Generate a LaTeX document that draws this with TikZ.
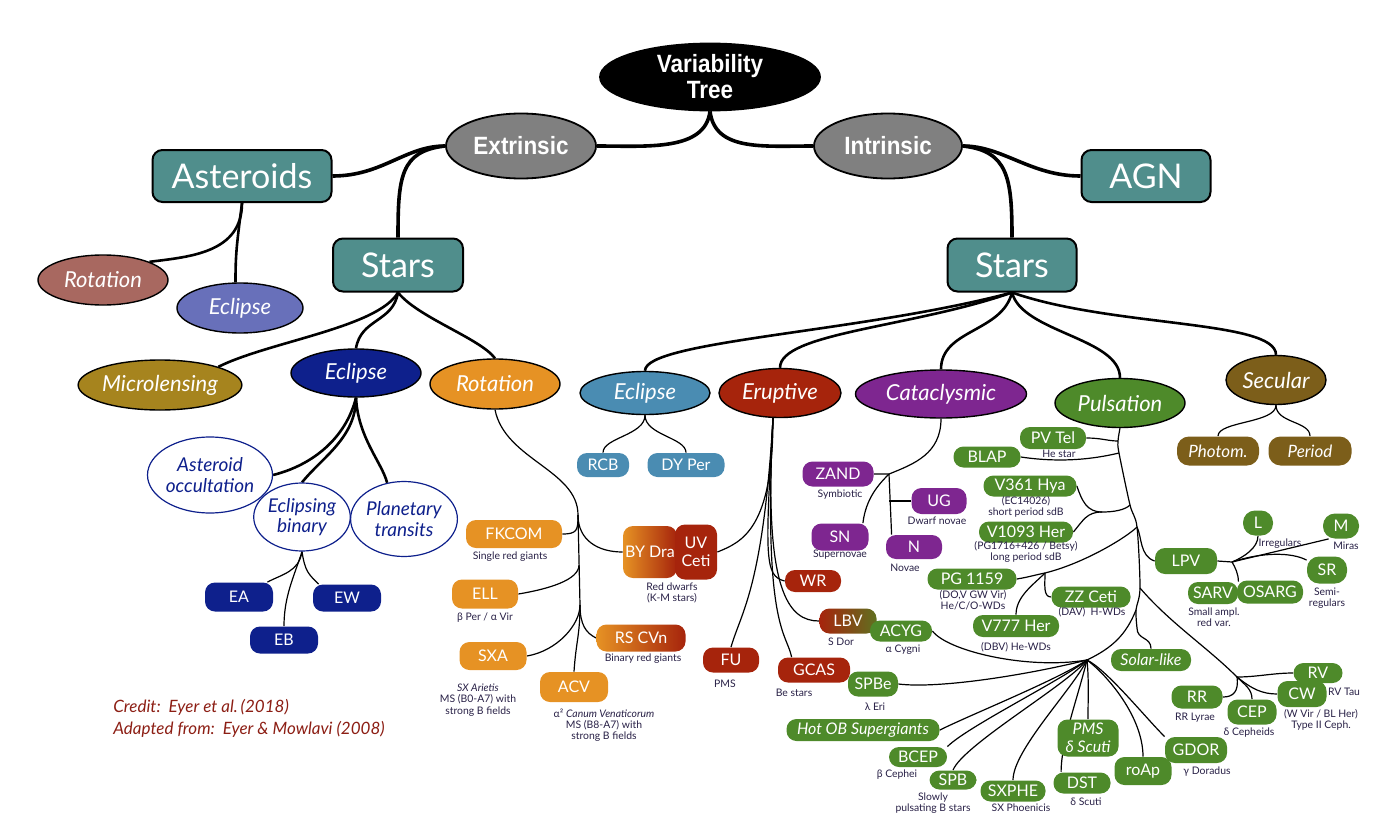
\documentclass[tikz,border=0pt]{standalone}
\usepackage{fontspec}
\setmainfont{Lato}
\newfontfamily\condfont[FakeStretch=0.9]{Liberation Sans}
\usepackage{tikz}
\usetikzlibrary{shapes.geometric,backgrounds}
\definecolor{tealbox}{RGB}{80,142,140}
\definecolor{greyell}{RGB}{128,128,128}
\definecolor{roseell}{RGB}{168,104,96}
\definecolor{perell}{RGB}{104,112,186}
\definecolor{olivell}{RGB}{166,132,30}
\definecolor{navyc}{RGB}{14,32,140}
\definecolor{orangec}{RGB}{230,146,36}
\definecolor{lblue}{RGB}{74,140,178}
\definecolor{redc}{RGB}{166,36,12}
\definecolor{purplec}{RGB}{126,38,144}
\definecolor{greenc}{RGB}{78,138,42}
\definecolor{brownc}{RGB}{124,94,26}
\definecolor{olivegr}{RGB}{96,112,32}
\definecolor{creditc}{RGB}{140,30,20}
\definecolor{notec}{RGB}{40,32,70}

\begin{document}
\begin{tikzpicture}[x=0.5pt,y=-0.5pt,
		top/.style={ellipse, draw=black, line width=0.9pt, text=white, font=\condfont\bfseries\fontsize{12.5}{13}\selectfont, inner sep=0pt, align=center},
		big/.style={draw=black, line width=1pt, fill=tealbox, rounded corners=5pt, text=white, font=\fontsize{17}{20}\selectfont, inner sep=0pt},
		fam/.style={ellipse, draw=black, line width=0.7pt, text=white, font=\itshape\fontsize{11}{12}\selectfont, inner sep=0pt},
		ring/.style={ellipse, draw=navyc, line width=0.6pt, fill=white, text=navyc, font=\itshape\fontsize{9.5}{10.3}\selectfont, align=center, inner sep=0pt},
		pill/.style={rounded corners=5pt, text=white, font=\fontsize{8}{9}\selectfont, inner sep=0pt, minimum height=11pt, align=center},
		note/.style={text=notec, font=\fontsize{5.2}{5.6}\selectfont, align=center, inner sep=0pt},
		link/.style={line width=1.8pt},
		sub/.style={line width=1.3pt},
		twig/.style={line width=0.6pt}]
			\useasboundingbox (0,0) rectangle (1398,830);

			\node[top, fill=black, minimum width=110pt, minimum height=33.5pt] (vt) at (710,77) {Variability\\Tree};
			\node[top, fill=greyell, minimum width=75pt, minimum height=32.5pt] (ext) at (521,146) {Extrinsic};
			\node[top, fill=greyell, minimum width=74pt, minimum height=32.5pt] (int) at (888,146) {Intrinsic};
			\node[big, minimum width=89.5pt, minimum height=26pt] (ast) at (242,176) {Asteroids};
			\node[big, minimum width=64.5pt, minimum height=26pt] (agn) at (1146,176) {AGN};
			\node[big, minimum width=65pt, minimum height=26.5pt] (starsL) at (398,265) {Stars};
			\node[big, minimum width=64.5pt, minimum height=26.5pt] (starsR) at (1012,265) {Stars};

			\node[fam, fill=roseell, minimum width=65pt, minimum height=25pt] (rot1) at (103,280) {Rotation};
			\node[fam, fill=perell, minimum width=63pt, minimum height=25pt] (ecl1) at (240,308) {Eclipse};
			\node[fam, fill=olivell, minimum width=76.5pt, minimum height=25pt] (micro) at (160,385) {Microlensing};
			\node[fam, fill=navyc, minimum width=65pt, minimum height=24pt] (ecl2) at (356,373) {Eclipse};
			\node[fam, fill=orangec, minimum width=65pt, minimum height=25pt] (rot2) at (495,384) {Rotation};
			\node[fam, fill=lblue, minimum width=65pt, minimum height=21.5pt] (ecl3) at (645,393) {Eclipse};
			\node[fam, fill=redc, minimum width=61pt, minimum height=24.5pt] (erup) at (780,393) {Eruptive};
			\node[fam, fill=purplec, minimum width=85.5pt, minimum height=24pt] (cata) at (941,394) {Cataclysmic};
			\node[fam, fill=greenc, minimum width=65pt, minimum height=24.5pt] (pul) at (1120,403) {Pulsation};
			\node[fam, fill=brownc, minimum width=50pt, minimum height=24.5pt] (sec) at (1276,380) {Secular};

			\node[ring, minimum width=51.5pt, minimum height=38pt] (occ) at (210,475) {Asteroid\\occultation};
			\node[ring, minimum width=44pt, minimum height=34pt] (bin) at (302,517) {Eclipsing\\binary};
			\node[ring, minimum width=46.5pt, minimum height=37.5pt] (pt) at (404,519) {Planetary\\transits};
			\node[pill, fill=navyc, minimum width=34pt, minimum height=14.5pt] (ea) at (239,597) {EA};
			\node[pill, fill=navyc, minimum width=34pt, minimum height=13.5pt] (eb) at (284,640) {EB};
			\node[pill, fill=navyc, minimum width=34pt, minimum height=13.5pt] (ew) at (347,598) {EW};

			\node[anchor=west, text=creditc, font=\itshape\fontsize{8.5}{11}\selectfont, align=left, inner sep=0pt] (credit) at (113,718) {Credit:\ \ Eyer et al.\,(2018)\\Adapted from:\ \ Eyer \& Mowlavi (2008)};

			\node[pill, fill=orangec, minimum width=48pt, minimum height=14pt] (fk) at (514,534) {FKCOM};
			\node[pill, fill=orangec, minimum width=33pt, minimum height=14.5pt] (ell) at (485,594) {ELL};
			\node[pill, fill=orangec, minimum width=33.5pt, minimum height=14pt] (sxa) at (493,656) {SXA};
			\node[pill, fill=orangec, minimum width=34pt, minimum height=15pt] (acv) at (574,687) {ACV};
			\node[pill, left color=orangec, right color=redc, minimum width=44.5pt, minimum height=13.5pt] (rscvn) at (641,638) {RS CVn};
			\node[pill, left color=orangec, right color=redc, minimum width=27pt, minimum height=26pt] (bydra) at (650,552) {BY Dra};
			\node[pill, fill=redc, minimum width=21pt, minimum height=27.5pt] (uvceti) at (696,552) {UV\\Ceti};
			\node[note] (n-fk) at (510,557) {Single red giants};
			\node[note] (n-ell) at (485,618) {β Per / α Vir};
			\node[note] (n-sxa) at (478,700) {\textit{SX Arietis}\\MS (B0-A7) with\\strong B fields};
			\node[note] (n-acv) at (604,725) {α² \textit{Canum Venaticorum}\\MS (B8-A7) with\\strong B fields};
			\node[note] (n-rs) at (643,659) {Binary red giants};
			\node[note] (n-by) at (672,593) {Red dwarfs\\(K-M stars)};

			\node[pill, fill=lblue, minimum width=26pt, minimum height=12pt] (rcb) at (603,465) {RCB};
			\node[pill, fill=lblue, minimum width=38.5pt, minimum height=12pt] (dyper) at (686,465) {DY Per};

			\node[pill, fill=redc, minimum width=28pt, minimum height=12.5pt] (fu) at (731,660) {FU};
			\node[pill, fill=redc, minimum width=28pt, minimum height=11pt] (wr) at (813,581) {WR};
			\node[pill, left color=redc, right color=olivegr, minimum width=28.5pt, minimum height=12.5pt] (lbv) at (848,621) {LBV};
			\node[pill, fill=redc, minimum width=36pt, minimum height=12.5pt] (gcas) at (814,670) {GCAS};
			\node[note] (n-fu) at (725,684) {PMS};
			\node[note] (n-lbv) at (841,642) {S Dor};
			\node[note] (n-gcas) at (794,693) {Be stars};

			\node[pill, fill=purplec, minimum width=35.5pt, minimum height=12.5pt] (zand) at (838,474) {ZAND};
			\node[pill, fill=purplec, minimum width=28.5pt, minimum height=13.5pt] (sn) at (840,537) {SN};
			\node[pill, fill=purplec, minimum width=27.5pt, minimum height=13pt] (ug) at (939,501) {UG};
			\node[pill, fill=purplec, minimum width=28pt, minimum height=12pt] (novae) at (914,547) {N};
			\node[note] (n-zand) at (840,495) {Symbiotic};
			\node[note] (n-sn) at (840,555) {Supernovae};
			\node[note] (n-ug) at (937,521) {Dwarf novae};
			\node[note] (n-novae) at (905,568) {Novae};

			\node[pill, fill=greenc, minimum width=33pt] (pvtel) at (1053,438) {PV Tel};
			\node[pill, fill=greenc, minimum width=33.5pt, minimum height=10.5pt] (blap) at (987,457) {BLAP};
			\node[pill, fill=greenc, minimum width=46.5pt, minimum height=10.5pt] (v361) at (1030,486) {V361 Hya};
			\node[pill, fill=greenc, minimum width=47pt, minimum height=10.5pt] (v1093) at (1026,532) {V1093 Her};
			\node[pill, fill=greenc, minimum width=44.5pt, minimum height=10.5pt] (pg) at (972,579) {PG 1159};
			\node[pill, fill=greenc, minimum width=39.5pt, minimum height=10.5pt] (zz) at (1091,597) {ZZ Ceti};
			\node[pill, fill=greenc, minimum width=43pt] (v777) at (1016,626) {V777 Her};
			\node[pill, fill=greenc, minimum width=31pt, minimum height=10.5pt] (acyg) at (901,631) {ACYG};
			\node[pill, fill=greenc, minimum width=31pt, minimum height=13pt] (lpv) at (1186,561) {LPV};
			\node[pill, fill=greenc, rounded corners=6pt, minimum width=15pt, minimum height=12.5pt] (lnode) at (1258,523) {L};
			\node[pill, fill=greenc, rounded corners=6pt, minimum width=18pt, minimum height=12.5pt] (mnode) at (1341,526) {M};
			\node[pill, fill=greenc, rounded corners=6pt, minimum width=20pt, minimum height=13.5pt] (sr) at (1327,570) {SR};
			\node[pill, fill=greenc, minimum width=25pt] (sarv) at (1213,593) {SARV};
			\node[pill, fill=greenc, minimum width=33pt, minimum height=11.5pt] (osarg) at (1270,592) {OSARG};
			\node[pill, fill=greenc, minimum width=40pt, font=\itshape\fontsize{8}{9}\selectfont] (solar) at (1151,660) {Solar-like};
			\node[pill, fill=greenc, minimum width=24.5pt, minimum height=10pt] (rv) at (1318,673) {RV};
			\node[pill, fill=greenc, minimum width=24.5pt, minimum height=13pt] (cw) at (1302,694) {CW};
			\node[pill, fill=greenc, minimum width=25.5pt, minimum height=11.5pt] (rr) at (1197,697) {RR};
			\node[pill, fill=greenc, minimum width=24.5pt, minimum height=12.5pt] (cep) at (1252,712) {CEP};
			\node[pill, fill=greenc, minimum width=31pt, minimum height=13pt] (gdor) at (1196,750) {GDOR};
			\node[pill, fill=greenc, minimum width=28.5pt, minimum height=14pt] (roap) at (1143,771) {roAp};
			\node[pill, fill=greenc, minimum width=30.5pt, minimum height=18.5pt, font=\itshape\fontsize{8}{9}\selectfont] (pms) at (1088,738) {PMS\\δ Scuti};
			\node[pill, fill=greenc, minimum width=28.5pt, minimum height=10.5pt] (dst) at (1082,783) {DST};
			\node[pill, fill=greenc, minimum width=32.5pt, minimum height=10.5pt] (sxphe) at (1013,791) {SXPHE};
			\node[pill, fill=greenc, minimum width=23.5pt, minimum height=9.5pt] (spb) at (953,780) {SPB};
			\node[pill, fill=greenc, minimum width=29pt, minimum height=10pt] (bcep) at (918,757) {BCEP};
			\node[pill, fill=greenc, minimum width=76.5pt, font=\itshape\fontsize{8}{9}\selectfont] (hotob) at (863,730) {Hot OB Supergiants};
			\node[pill, fill=greenc, minimum width=25pt, minimum height=12.5pt] (spbe) at (873,684) {SPBe};
			\node[note] (n-acyg) at (903,650) {α Cygni};
			\node[note] (n-pv) at (1059,454) {He star};
			\node[note] (n-v361) at (1026,507) {(EC14026)\\short period sdB};
			\node[note] (n-v1093) at (1026,552) {(PG1716+426 / Betsy)\\long period sdB};
			\node[note] (n-pg) at (973,600) {(DO,V GW Vir)\\He/C/O-WDs};
			\node[note] (n-zz) at (1092,612) {(DAV)\ \ H-WDs};
			\node[note] (n-v777) at (1016,647) {(DBV) He-WDs};
			\node[note] (n-l) at (1280,544) {Irregulars};
			\node[note] (n-m) at (1346,546) {Miras};
			\node[note] (n-sr) at (1327,598) {Semi-\\regulars};
			\node[note] (n-sarv) at (1214,617) {Small ampl.\\red var.};
			\node[note] (n-rv) at (1344,692) {RV Tau};
			\node[note] (n-cw) at (1321,720) {(W Vir / BL Her)\\Type II Ceph.};
			\node[note] (n-rr) at (1195,718) {RR Lyrae};
			\node[note] (n-cep) at (1249,733) {δ Cepheids};
			\node[note] (n-gdor) at (1207,772) {γ Doradus};
			\node[note] (n-dst) at (1086,802) {δ Scuti};
			\node[note] (n-sxphe) at (1021,808) {SX Phoenicis};
			\node[note] (n-spb) at (933,803) {Slowly\\pulsating B stars};
			\node[note] (n-bcep) at (897,775) {β Cephei};
			\node[note] (n-spbe) at (875,707) {λ Eri};

			\node[pill, fill=brownc, rounded corners=6pt, minimum width=41pt, minimum height=14.5pt, font=\itshape\fontsize{8.5}{9}\selectfont] (photom) at (1218,451) {Photom.};
			\node[pill, fill=brownc, rounded corners=6pt, minimum width=41.5pt, minimum height=14.5pt, font=\itshape\fontsize{8.5}{9}\selectfont] (period) at (1310,451) {Period};

			\coordinate (rt) at (578,515);
			\coordinate (rt2) at (579,565);
			\coordinate (rt3) at (580,605);
			\coordinate (et) at ([xshift=-3.5pt]erup.south);
			\coordinate (cj) at (889,474);
			\coordinate (t1) at (1118,441);
			\coordinate (t2) at (1119,453);
			\coordinate (t3) at (1130,505);
			\coordinate (t4) at (1137,527);
			\coordinate (t5) at (1140,588);
			\coordinate (t6) at (1136,610);
			\coordinate (t7) at (1137,628);
			\coordinate (vj) at (1102,512);
			\coordinate (gj) at (1045,573);
			\coordinate (lj) at (1232,562);
			\coordinate (pj) at (1237,677);
			\coordinate (hub) at (1087,660);

			\begin{scope}[on background layer]
			\draw[link] (vt.south) .. controls +(-5,40) and +(50,0) .. (ext.east);
			\draw[link] (vt.south) .. controls +(5,40) and +(-50,0) .. (int.west);
			\draw[link] (ext.west) .. controls +(-40,0) and +(50,0) .. (ast.east);
			\draw[link] (ext.west) .. controls +(-45,5) and +(0,-60) .. (starsL.north);
			\draw[link] (int.east) .. controls +(40,0) and +(-50,0) .. (agn.west);
			\draw[link] (int.east) .. controls +(45,5) and +(0,-60) .. (starsR.north);

			\draw[sub] (ast.south) .. controls +(0,50) and +(40,-5) .. (rot1.north east);
			\draw[sub] (ast.south) .. controls +(-5,40) and +(0,-30) .. (ecl1.100);
			\draw[sub] (starsL.south) .. controls +(-20,35) and +(50,-25) .. (micro.north east);
			\draw[sub] (starsL.south) .. controls +(-5,30) and +(5,-30) .. (ecl2.north);
			\draw[sub] (starsL.south) .. controls +(20,25) and +(-15,-20) .. (rot2.north);
			\draw[sub] (ecl2.south) .. controls +(-10,40) and +(40,-10) .. (occ.east);
			\draw[sub] (ecl2.south) .. controls +(0,40) and +(20,-25) .. (bin.north);
			\draw[sub] (ecl2.south) .. controls +(2,40) and +(-5,-20) .. (pt.115);
			\draw[twig] (bin.south) .. controls +(-3,20) and +(15,-8) .. ([xshift=-3pt]ea.north east);
			\draw[twig] (bin.south) .. controls +(-8,25) and +(0,-30) .. (eb.north);
			\draw[twig] (bin.south) .. controls +(3,20) and +(-10,-10) .. ([xshift=3pt]ew.north west);

			\draw[twig] (rot2.south) .. controls +(10,50) and +(0,-45) .. (rt) -- (rt3) .. controls +(0,30) and +(2,-30) .. (acv.north);
			\draw[twig] (rt) .. controls +(0,15) and +(15,0) .. (fk.east);
			\draw[twig] (rt) .. controls +(0,25) and +(-25,0) .. (bydra.west);
			\draw[twig] (rt2) .. controls +(0,15) and +(30,-5) .. (ell.east);
			\draw[twig] (rt3) .. controls +(0,20) and +(30,-5) .. (sxa.east);
			\draw[twig] (rt3) .. controls +(0,20) and +(-10,-5) .. (rscvn.west);

			\draw[sub] (starsR.south) .. controls +(-150,40) and +(0,-30) .. (ecl3.north);
			\draw[sub] (starsR.south) .. controls +(-100,35) and +(0,-35) .. (erup.north);
			\draw[sub] (starsR.south) .. controls +(-10,40) and +(0,-40) .. (cata.north);
			\draw[sub] (starsR.south) .. controls +(10,40) and +(0,-40) .. (pul.north);
			\draw[sub] (starsR.south) .. controls +(100,35) and +(0,-35) .. (sec.north);

			\draw[twig] (ecl3.south) .. controls +(0,20) and +(0,-15) .. (rcb.north);
			\draw[twig] (ecl3.south) .. controls +(0,20) and +(0,-15) .. (dyper.north);

			\draw[twig] (et) .. controls +(0,110) and +(25,-10) .. (uvceti.east);
			\draw[twig] (et) .. controls +(-8,140) and +(-20,-5) .. (wr.west);
			\draw[twig] (et) .. controls +(-10,170) and +(10,-35) .. (fu.north);
			\draw[twig] (et) .. controls +(-10,175) and +(-30,0) .. (lbv.west);
			\draw[twig] (et) .. controls +(-10,210) and +(-5,-25) .. ([xshift=7pt]gcas.north west);

			\draw[twig] (cata.south) .. controls +(0,35) and +(25,-10) .. (cj) -- (zand.east);
			\draw[twig] (cj) .. controls +(-10,10) and +(3,-25) .. ([xshift=-3pt]sn.north east);
			\draw[twig] (cj) -- ([xshift=3pt]novae.north west);
			\draw[twig] (ug.west) -- (ug.west -| cj);

			\draw[twig] plot[smooth] coordinates {(pul.south) (t1) (t2) (t3) (t4) (t5) (t6) (t7)};
			\draw[twig] (pvtel.east) .. controls +(15,0) and +(-10,0) .. (t1);
			\draw[twig] (blap.east) .. controls +(40,6) and +(-25,6) .. (t2);
			\draw[twig] (v361.east) .. controls +(5,15) and +(-15,0) .. (vj);
			\draw[twig] (v1093.east) .. controls +(10,-12) and +(-15,0) .. (vj);
			\draw[twig] (vj) .. controls +(12,0) and +(-5,5) .. (t3);
			\draw[twig] (pg.east) .. controls +(12,-2) and +(-10,2) .. (gj);
			\draw[twig] (gj) .. controls +(40,-10) and +(-10,10) .. (t4);
			\draw[twig] (gj) .. controls +(0,12) and +(-8,0) .. (zz.west);
			\draw[twig] (gj) .. controls +(-12,12) and +(0,-18) .. (v777.north);
			\draw[twig] (t4) .. controls +(5,10) and +(-15,-5) .. (lpv.west);
			\draw[twig] (lpv.east) -- (lj);
			\draw[twig] (lj) .. controls +(12,-5) and +(0,12) .. (lnode.south);
			\draw[twig] (lj) -- ([xshift=3pt]mnode.south west);
			\draw[twig] (lj) .. controls +(30,-10) and +(-15,-8) .. ([yshift=-2pt]sr.north west);
			\draw[twig] (lj) .. controls +(3,5) and +(0,-8) .. (sarv.north east);
			\draw[twig] (t5) .. controls +(30,35) and +(-30,-30) .. (pj);
			\draw[twig] (pj) .. controls +(20,0) and +(-20,0) .. (rv.west);
			\draw[twig] (pj) .. controls +(15,12) and +(-15,0) .. (cw.west);
			\draw[twig] (pj) .. controls +(8,8) and +(0,-10) .. (cep.north);
			\draw[twig] (pj) .. controls +(2,15) and +(10,0) .. (rr.east);
			\draw[twig] (t7) .. controls +(0,12) and +(0,-12) .. (solar.north);
			\draw[twig] (t6) .. controls +(-10,25) and +(25,-12) .. (hub);
			\draw[twig] (hub) .. controls +(-60,10) and +(15,20) .. (acyg.east);
			\draw[twig] (hub) .. controls +(-60,15) and +(40,5) .. (spbe.east);
			\draw[twig] (hub) .. controls +(-30,20) and +(30,-15) .. (hotob.east);
			\draw[twig] (hub) .. controls +(-25,20) and +(20,-20) .. (bcep.north east);
			\draw[twig] (hub) .. controls +(-20,25) and +(10,-25) .. (spb.north);
			\draw[twig] (hub) .. controls +(-15,30) and +(0,-30) .. (sxphe.north);
			\draw[twig] (hub) .. controls +(-10,40) and +(0,-30) .. ([xshift=4pt]dst.north west);
			\draw[twig] (hub) .. controls +(2,20) and +(0,-20) .. (pms.north);
			\draw[twig] (hub) .. controls +(20,15) and +(0,-40) .. (roap.north);
			\draw[twig] (hub) .. controls +(20,10) and +(-20,-20) .. (gdor.north west);

			\draw[twig] (sec.south) .. controls +(0,18) and +(0,-15) .. (photom.north);
			\draw[twig] (sec.south) .. controls +(0,18) and +(0,-15) .. (period.north);
			\end{scope}
		\end{tikzpicture}
\end{document}
